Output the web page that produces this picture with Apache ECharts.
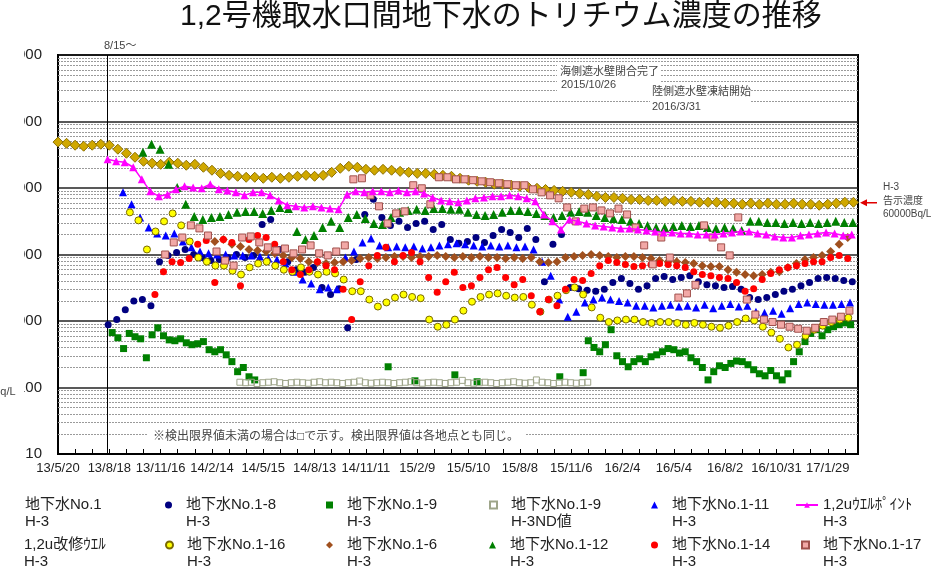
<!DOCTYPE html>
<html>
<head>
<meta charset="utf-8">
<title>1,2号機取水口間地下水のトリチウム濃度の推移</title>
<script src="https://cdn.jsdelivr.net/npm/echarts@6/dist/echarts.min.js"></script>
<style>
html, body { margin: 0; padding: 0; background: #fff; }
#chart { width: 939px; height: 588px; }
</style>
</head>
<body>
<div id="chart"></div>
<script>
const FONT = '"Liberation Sans", "Noto Sans CJK JP", sans-serif'
const DAY = 86400000
const ORIGIN = Date.UTC(2013, 4, 20)
const dayOf = (s) => {
    const [y, m, d] = s.split('-').map(Number)
    return Math.round((Date.UTC(y, m - 1, d) - ORIGIN) / DAY)
}

// axes
const xMaxDate = '2017-03-23'
const xTickDays = 90
const yMin = 10, yMax = 10000000
const noticeLevel = 60000
const wallLineDate = '2013-08-15'

// 地下水No.1 (Bq/L), every 15 days
const no1Start = '2013-05-20', no1Step = 15
const no1H3 = [
    490000,470000,440000,425000,440000,455000,440000,383000,333000,290000,
    252000,236000,227000,244000,236000,220000,227000,205000,185000,166000,
    155000,150000,145000,145000,140000,145000,140000,145000,150000,155000,
    150000,155000,172000,198000,212000,205000,191000,185000,191000,185000,
    178000,172000,166000,166000,161000,155000,150000,140000,131000,126000,
    122000,114000,114000,110000,106000,102000,99000,95000,92000,89000,
    86000,83000,80000,75000,72000,72000,70000,67000,67000,65000,
    65000,63000,65000,63000,63000,61000,61000,61000,59000,59000,
    57000,59000,57000,59000,57000,57000,59000,57000,57000,55000,
    57000,59000,61000,61000
]

// 地下水No.1-8
const no18Start = '2013-08-16', no18Step = 15
const no18H3 = [
    880,1050,1480,2000,2100,1700,7800,9700,10700,11900,
    10000,9000,8100,8400,9000,10000,9000,9700,28300,33700,
    11900,7800,5900,5400,6400,3200,2500,3050,790,8400,
    40000,67500,36100,27400,31500,25500,29300,31500,23800,28300,
    16800,14700,15700,18000,15200,19300,23800,21500,18000,24700,
    16800,3900,14200,20000,3200,3050,2900,2800,3000,3800,
    4350,3650,3000,3400,4350,4650,4200,4500,4800,3900,
    3500,3400,3200,3300,3000,2250,2100,2250,2500,2800,
    3000,3400,3800,4350,4500,4350,4050,3900
]

// 地下水No.1-9 (detected values)
const no19aStart = '2013-08-23', no19aStep = 10
const no19aH3 = [670,560,385,650,580,540,280,620,790,600,520,505,540,470,440,455,490,370,345,370,310,245,173,200,145,130]
const no19bDates = ['2014-12-20','2015-02-05','2015-04-16','2015-05-25','2015-10-17','2015-11-27']
const no19bH3 = [205,126,155,122,145,167]
const no19cStart = '2015-12-06', no19cStep = 10
const no19cH3 = [
    505,400,345,440,740,300,245,205,245,270,245,290,310,345,385,370,330,345,280,245,
    200,130,173,212,200,230,250,245,220,185,161,150,180,150,130,161,245,345,490,650,
    740,600,740,820,880,935,880
]

// 地下水No.1-9 ND値
const no19ndStart = '2014-04-04', no19ndStep = 10
const no19ndH3 = [
    120,118,120,115,118,120,122,118,115,118,120,118,116,120,122,118,120,118,115,118,
    120,125,118,116,118,120,118,115,118,120,122,118,116,118,120,118,115,118,120,128,
    118,116,118,120,118,115,118,120,122,118,116,118,130,120,118,115,118,120,118,116,
    118,120
]

// 地下水No.1-11
const no111Start = '2013-09-11', no111Step = 15
const no111H3 = [
    86000,57000,36100,25500,20700,19300,20700,15700,12800,11100,
    10400,10000,10000,9700,9700,9700,9300,8700,8400,7300,
    5500,4200,3650,3000,3200,3000,9000,11100,15200,17400,
    13700,12800,13200,12800,13200,12300,12800,13700,14200,14700,
    14200,13700,13200,13700,13200,13700,12800,13200,11900,7800,
    4800,2100,1160,1380,1900,2100,2250,2100,2000,1900,
    1700,1700,1600,1700,1760,1650,1700,1600,1760,1550,
    1700,1800,1650,1700,1380,1330,1430,1290,1550,1800,
    1900,1800,1760,1760,1800,1900
]

// 1,2uウエルポイント
const wpStart = '2013-08-15', wpStep = 15
const wpH3 = [
    271000,252000,244000,205000,135000,89000,75000,80000,95500,106000,
    102000,99000,114000,95500,92000,86000,77500,86000,86000,77500,
    65000,55000,53000,51000,53000,51000,49000,48000,80000,89000,
    86000,89000,89000,86000,92000,86000,89000,83000,72000,65000,
    63000,61000,65000,70000,72000,75000,75000,77500,75000,70000,
    63000,40000,31500,23800,33700,31500,29300,27400,26400,25500,
    24700,24700,23800,23000,22200,21500,21500,20700,20700,20000,
    20000,20000,20700,21500,22200,22200,20700,20000,18700,18000,
    18000,19300,20000,20700,21500,20700,19300,20000
]

// 1,2u改修ウエル
const rwH3 = []

// 地下水No.1-16
const no116Start = '2013-09-23', no116Step = 15
const no116H3 = [
    43000,32600,11900,22200,31500,41500,27400,15700,9000,7800,
    6800,6800,5700,5000,6400,7300,7800,6800,5900,5500,
    6400,5500,5000,5500,5200,4200,2800,2800,2100,1650,
    1900,2250,2500,2300,2200,1050,820,880,1050,1430,
    1950,2300,2500,2600,2400,2250,2300,1760,1380,2100,
    2400,2900,3200,2500,1600,1120,965,1020,1050,1050,
    965,935,965,965,935,880,935,880,820,790,
    850,965,1090,1020,820,670,540,400,440,600,
    740,850,965,1050,1120
]

// 地下水No.1-6
const no16Start = '2014-02-19', no16Step = 15
const no16H3 = [
    15700,16800,14200,13200,11900,11500,11100,10400,9700,9000,
    8700,7800,7600,7300,7600,7800,8100,8700,9000,8700,
    9000,9300,9300,9000,9300,9300,9700,9300,9000,9300,
    9000,9300,9000,9000,8700,9000,8700,9000,7800,7600,
    7800,9000,9300,9700,10000,9700,9300,9000,9300,9300,
    9000,8700,8100,7800,7800,7600,7300,6800,6600,6600,
    5900,5400,5000,4800,5000,5400,5500,6400,7300,8400,
    9000,9700,11100,14200,18000
]

// 地下水No.1-12
const no112Start = '2013-10-16', no112Step = 15
const no112H3 = [
    345000,455000,383000,227000,102000,57000,37400,33700,36100,37400,
    40000,43000,44500,44500,41500,46000,51000,49000,22200,16800,
    19300,25500,31500,25500,36100,40000,34900,29300,28300,36100,
    43000,46000,48000,46000,49000,49000,48000,48000,43000,40000,
    38700,40000,43000,46000,46000,44500,41500,38700,36100,38700,
    43000,44500,43000,38700,36100,34900,33700,31500,29300,27400,
    25500,25500,26400,27400,26400,27400,25500,24700,25500,24700,
    23000,31500,31500,30400,30400,29300,30400,29300,30400,29300,
    30400,31500,30400,30400
]

// 地下水No.1-14
const no114Start = '2013-11-06', no114Step = 15
const no114H3 = [
    2500,5500,7800,7600,8700,14200,16300,3800,16800,15200,
    3400,16800,19300,18000,14200,7800,5900,5000,5900,7800,
    6800,5900,3000,1050,3900,6800,9700,12800,7800,9700,
    10700,7800,4500,2700,3900,5400,3200,3400,4500,5900,
    6400,4500,3500,4200,2400,1380,2100,1700,3000,4200,
    4050,5200,6800,8100,7600,7100,6600,6800,7100,7300,
    7100,6800,6400,5500,5000,4800,4500,4350,3800,2800,
    3050,4200,5200,5900,6400,6800,7300,7800,7800,9000,
    9700,8700
]

// 地下水No.1-17
const no117Start = '2013-11-24', no117Step = 15
const no117H3 = [
    10000,15200,18000,27400,24700,19300,11100,8100,6800,18000,
    18700,15200,12800,11500,12300,10400,11900,13700,10400,9700,
    11100,13700,135000,140000,77500,53000,29300,41500,44500,110000,
    99000,57000,145000,145000,135000,135000,131000,126000,122000,118000,
    114000,110000,110000,95500,86000,77500,70000,51000,31500,49000,
    51000,46000,41500,49000,40000,25500,13700,7100,18000,9000,
    2250,2600,3500,27400,18000,12800,9700,36100,2100,1250,
    1050,965,880,820,765,715,790,965,1050,1160,
    1430
]

const seq = (start, step, vals) => {
    const d0 = dayOf(start)
    return vals.map((v, i) => [d0 + i * step, v])
}
const pts = (dates, vals) => dates.map((s, i) => [dayOf(s), vals[i]])

// log-scale minor grid (2..9 in every decade)
const minorGrid = []
for (let e = 1; e < 7; e++) {
    for (let k = 2; k <= 9; k++) minorGrid.push(k * Math.pow(10, e))
}

const scatter = (name, data, symbol, size, color, border) => ({
    name: name,
    type: 'scatter',
    data: data,
    symbol: symbol,
    symbolSize: size,
    silent: true,
    itemStyle: { color: color, borderColor: border || color, borderWidth: border ? 1 : 0, opacity: 1 }
})

const names = [
    '地下水No.1\nH-3', '地下水No.1-8\nH-3', '地下水No.1-9\nH-3', '地下水No.1-9\nH-3ND値',
    '地下水No.1-11\nH-3', '1,2uｳｴﾙﾎﾟｲﾝﾄ\nH-3', '1,2u改修ｳｴﾙ\nH-3', '地下水No.1-16\nH-3',
    '地下水No.1-6\nH-3', '地下水No.1-12\nH-3', '地下水No.1-14\nH-3', '地下水No.1-17\nH-3'
]

const no1Series = scatter(names[0], seq(no1Start, no1Step, no1H3), 'diamond', 10, '#d0a800', '#8c7000')
no1Series.markLine = {
    silent: true,
    symbol: 'none',
    z: 1,
    animation: false,
    label: { show: false },
    data: minorGrid.map(v => ({ yAxis: v, lineStyle: { color: '#9a9a9a', width: 1, type: [2, 1] } }))
        .concat([{ xAxis: dayOf(wallLineDate), lineStyle: { color: '#000', width: 1, type: 'solid' } }])
}

const series = [
    no1Series,
    scatter(names[1], seq(no18Start, no18Step, no18H3), 'circle', 7, '#000080'),
    scatter(names[2], seq(no19aStart, no19aStep, no19aH3).concat(pts(no19bDates, no19bH3), seq(no19cStart, no19cStep, no19cH3)), 'rect', 7, '#008000'),
    scatter(names[3], seq(no19ndStart, no19ndStep, no19ndH3), 'rect', 6, 'rgba(255,255,255,0)', '#9ea58a'),
    scatter(names[4], seq(no111Start, no111Step, no111H3), 'triangle', 8, '#0000ff'),
    {
        name: names[5],
        type: 'line',
        data: seq(wpStart, wpStep, wpH3),
        symbol: 'triangle',
        symbolSize: 8,
        silent: true,
        lineStyle: { color: '#ff00ff', width: 1.5 },
        itemStyle: { color: '#ff00ff' }
    },
    scatter(names[6], rwH3, 'diamond', 7, '#e08a00'),
    scatter(names[7], seq(no116Start, no116Step, no116H3), 'circle', 7, '#ffff00', '#7a6a00'),
    scatter(names[8], seq(no16Start, no16Step, no16H3), 'diamond', 9, '#a0501e'),
    scatter(names[9], seq(no112Start, no112Step, no112H3), 'triangle', 9, '#008000'),
    scatter(names[10], seq(no114Start, no114Step, no114H3), 'circle', 7, '#ff0000'),
    scatter(names[11], seq(no117Start, no117Step, no117H3), 'rect', 7, '#f2a8a6', '#a0504c')
]

// legend: 2 rows x 6 columns, one legend per item; text x of each column
const legendTextX = [24, 186, 347, 510, 672, 822]
const legendTop = [479.5, 519.5]
const legends = names.map((n, i) => {
    const isLine = series[i].type === 'line'
    const w = isLine ? 22 : 7
    const gap = isLine ? 0 : 9
    return {
        data: [n],
        left: legendTextX[i % 6] - w - 5 - gap,
        top: legendTop[Math.floor(i / 6)],
        padding: 0,
        itemWidth: w,
        itemHeight: 7,
        selectedMode: false,
        formatter: (name) => '\n' + name,
        textStyle: { fontFamily: FONT, fontSize: 15, lineHeight: 17, color: '#222', padding: [0, 0, 0, gap] }
    }
})

const fmtDay = (v) => {
    const d = new Date(ORIGIN + v * DAY)
    return (d.getUTCFullYear() % 100) + '/' + (d.getUTCMonth() + 1) + '/' + d.getUTCDate()
}

const note = (text, x, y, size) => ({
    type: 'text', z: 101, silent: true, x: x, y: y,
    style: { text: text, fill: '#444', font: size + 'px ' + FONT, textVerticalAlign: 'middle' }
})
const whiteBox = (x, y, w, h) => ({
    type: 'rect', z: 100, silent: true, shape: { x: x, y: y, width: w, height: h }, style: { fill: '#fff' }
})

const option = {
    animation: false,
    backgroundColor: '#fff',
    title: {
        text: '1,2号機取水口間地下水のトリチウム濃度の推移',
        left: 180,
        top: 2,
        padding: 0,
        textStyle: { fontFamily: FONT, fontSize: 30, fontWeight: 'normal', color: '#111' }
    },
    legend: legends,
    grid: {
        left: 58, right: 81, top: 55, bottom: 134,
        outerBoundsMode: 'none',
        containLabel: false,
        show: true, borderColor: '#000', borderWidth: 2, backgroundColor: '#fff'
    },
    xAxis: {
        type: 'value',
        min: 0,
        max: dayOf(xMaxDate),
        interval: xTickDays,
        axisLine: { lineStyle: { color: '#000', width: 2 } },
        axisTick: { inside: true, length: 5, lineStyle: { color: '#000' } },
        minorTick: { show: true, splitNumber: 3, length: 5, lineStyle: { color: '#000' } },
        splitLine: { show: false },
        axisLabel: { formatter: fmtDay, showMaxLabel: false, fontFamily: FONT, fontSize: 13, color: '#222', margin: 8 }
    },
    yAxis: {
        type: 'log',
        logBase: 10,
        min: yMin,
        max: yMax,
        axisLine: { show: true, lineStyle: { color: '#000', width: 2 } },
        axisTick: { show: false },
        splitLine: { show: true, lineStyle: { color: '#222', width: 1.5 } },
        axisLabel: { formatter: (v) => String(Math.round(v)), fontFamily: FONT, fontSize: 15, color: '#222', margin: 16 }
    },
    graphic: [
        // left edge of the picture is cut off
        whiteBox(0, 36, 24, 552),
        note('Bq/L', -7, 392, 11),
        note('8/15～', 104, 46, 11),
        whiteBox(557, 63, 103, 30),
        note('海側遮水壁閉合完了', 560, 72, 11),
        note('2015/10/26', 561, 85, 11),
        whiteBox(650, 86, 100, 28),
        note('陸側遮水壁凍結開始', 652, 92, 11),
        note('2016/3/31', 652, 107, 11),
        whiteBox(148, 428, 378, 18),
        note('※検出限界値未満の場合は□で示す。検出限界値は各地点とも同じ。', 153, 437, 12)
    ],
    series: series
}

const chart = echarts.init(document.getElementById('chart'))
chart.setOption(option)

// 告示濃度 marker on the right, placed through the axis scale
const yNotice = chart.convertToPixel({ yAxisIndex: 0 }, noticeLevel)
const xRight = chart.convertToPixel({ xAxisIndex: 0 }, dayOf(xMaxDate))
option.graphic.push(
    { type: 'line', z: 101, silent: true, shape: { x1: xRight + 19, y1: yNotice, x2: xRight + 8, y2: yNotice }, style: { stroke: '#e00000', lineWidth: 1.5 } },
    { type: 'polygon', z: 101, silent: true, shape: { points: [[xRight + 2, yNotice], [xRight + 9, yNotice - 3.5], [xRight + 9, yNotice + 3.5]] }, style: { fill: '#e00000' } },
    note('H-3', xRight + 25, yNotice - 16, 10),
    note('告示濃度', xRight + 25, yNotice - 2, 10),
    note('60000Bq/L', xRight + 25, yNotice + 11, 10)
)
chart.setOption({ graphic: option.graphic })
</script>
</body>
</html>
